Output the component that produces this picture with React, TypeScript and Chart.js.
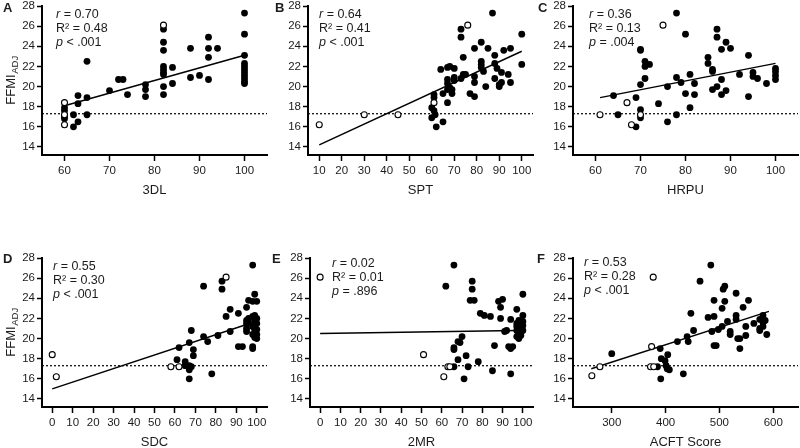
import React, { useEffect, useRef } from "react";
import { Chart, registerables } from "chart.js";
Chart.register(...registerables);

type Pt = [number, number];

// ---------- Text ----------
const panelLetters = ["A", "B", "C", "D", "E", "F"];
const xTitles = ["3DL", "SPT", "HRPU", "SDC", "2MR", "ACFT Score"];
const rValues = ["0.70", "0.64", "0.36", "0.55", "0.02", "0.53"];
const r2Values = ["0.48", "0.41", "0.13", "0.30", "0.01", "0.28"];
const pValues = ["< .001", "< .001", "= .004", "< .001", "= .896", "< .001"];

// ---------- Ticks ----------
const yTicks = [14, 16, 18, 20, 22, 24, 26, 28];
const xTicks3DL = [60, 70, 80, 90, 100];
const xTicksSPT = [10, 20, 30, 40, 50, 60, 70, 80, 90, 100];
const xTicksHRPU = [60, 70, 80, 90, 100];
const xTicksSDC = [0, 10, 20, 30, 40, 50, 60, 70, 80, 90, 100];
const xTicks2MR = [0, 10, 20, 30, 40, 50, 60, 70, 80, 90, 100];
const xTicksACFT = [300, 400, 500, 600];
const cutoffFFMI = 17.3;

// ---------- Panel A: 3DL ----------
const filled3DL: Pt[] = [
  [60, 17.9], [60, 17.6], [60, 17.0], [60, 16.8], [62, 17.2], [62, 16.0],
  [63, 19.1], [63, 18.3], [63, 16.5], [65, 22.5], [65, 18.9], [65, 17.2],
  [70, 19.6], [72, 20.7], [73, 20.7], [74, 19.2], [78, 20.2], [78, 19.7], [78, 19.0],
  [82, 25.7], [82, 24.4], [82, 23.6], [82, 22.0], [82, 21.7], [82, 21.4], [82, 21.2],
  [82, 20.0], [82, 19.2], [84, 21.9], [84, 20.3], [88, 23.8], [88, 20.9], [90, 21.1],
  [92, 24.9], [92, 23.8], [92, 22.9], [92, 20.7], [94, 23.8],
  [100, 27.3], [100, 25.2], [100, 23.1], [100, 22.3], [100, 22.0], [100, 21.7],
  [100, 21.4], [100, 21.1], [100, 20.8], [100, 20.5], [100, 20.3],
];
const open3DL: Pt[] = [[60, 18.4], [60, 17.2], [60, 16.2], [82, 26.1]];
const fit3DL: Pt[] = [[60, 18.1], [100, 23.1]];

// ---------- Panel B: SPT ----------
const filledSPT: Pt[] = [
  [61, 19.2], [61, 18.9], [60, 17.9], [61, 17.6], [61.5, 17.2], [60, 16.9], [62, 16.0],
  [64, 21.7], [65, 19.3], [65, 16.5], [67, 21.9], [67, 20.7], [67, 20.3], [67, 19.7], [67, 18.4],
  [68, 22.0], [68, 19.9], [69, 19.7], [69, 19.3], [70, 21.8], [70, 20.9], [70, 20.6],
  [73, 25.7], [73, 24.9], [73, 20.8], [74, 22.9], [74, 21.2], [75, 21.2],
  [77, 19.3], [79, 23.8], [79, 21.0], [79, 20.4], [79, 19.0],
  [82, 24.4], [82, 22.5], [82, 22.2], [82, 21.9], [83, 21.5], [84, 20.0], [85, 23.8], [87, 27.3],
  [88, 23.1], [88, 22.3], [88, 20.8], [89, 21.8], [90, 20.0], [90, 20.2], [91, 21.4], [91, 20.4],
  [92, 23.6], [94, 21.2], [95, 23.8], [95, 20.4], [100, 25.2], [100, 22.2],
];
const openSPT: Pt[] = [[10, 16.2], [30, 17.2], [45, 17.2], [61, 18.4], [76, 26.1]];
const fitSPT: Pt[] = [[10, 14.2], [100, 23.5]];

// ---------- Panel C: HRPU ----------
const filledHRPU: Pt[] = [
  [64, 19.1], [65, 17.2], [69, 18.9], [69, 16.0], [70, 23.7], [70, 23.6], [70, 20.2],
  [70, 17.7], [70, 16.9], [71, 22.5], [71, 22.0], [71, 20.8], [72, 22.2], [74, 18.3],
  [76, 20.0], [76, 16.5], [78, 27.3], [78, 20.9], [78, 17.2], [79, 20.4],
  [80, 25.2], [80, 19.3], [81, 21.2], [81, 17.9], [82, 20.3], [82, 19.2],
  [85, 22.9], [85, 22.3], [86, 21.7], [86, 21.5], [86, 19.7], [87, 25.7], [87, 24.9], [87, 20.0],
  [88, 23.7], [88, 20.7], [88, 19.2], [89, 24.4], [89, 19.6], [90, 23.8],
  [92, 21.2], [94, 23.1], [94, 19.0], [95, 21.4], [95, 21.0], [96, 20.8], [98, 20.3],
  [100, 21.8], [100, 21.5], [100, 21.1], [100, 20.7],
];
const openHRPU: Pt[] = [[61, 17.2], [67, 18.4], [68, 16.2], [70, 17.2], [75, 26.1]];
const fitHRPU: Pt[] = [[61, 18.9], [100, 22.3]];

// ---------- Panel D: SDC ----------
const filledSDC: Pt[] = [
  [61, 17.9], [62, 19.1], [65, 17.7], [65, 17.3], [67, 19.6], [67, 17.3], [67, 16.9], [67, 16.0],
  [68, 20.8], [68, 17.2], [69, 18.9], [69, 18.3], [74, 25.2], [74, 20.2], [76, 19.7], [78, 16.5],
  [81, 20.3], [83, 25.7], [83, 24.9], [85, 22.2], [87, 22.9], [87, 20.7],
  [91, 22.5], [91, 19.2], [93, 19.2], [95, 23.1], [95, 21.8], [95, 21.5], [95, 21.0], [95, 20.7],
  [96, 23.8], [96, 22.0], [96, 21.6], [98, 27.3], [98, 23.7], [98, 22.2], [98, 21.2], [98, 20.4],
  [98, 19.2], [98, 19.0], [99, 24.4], [99, 22.3], [99, 21.7], [99, 21.3], [99, 20.9], [99, 20.5],
  [99, 20.1], [100, 23.7], [100, 22.0], [100, 21.5], [100, 20.9], [100, 20.4], [100, 20.0],
];
const openSDC: Pt[] = [[0, 18.4], [2, 16.2], [58, 17.2], [62, 17.2], [85, 26.1]];
const fitSDC: Pt[] = [[0, 15.0], [95, 21.4]];

// ---------- Panel E: 2MR ----------
const filled2MR: Pt[] = [
  [62, 25.2], [66, 27.3], [66, 17.2], [66, 19.1], [66, 18.9], [68, 19.7], [68, 17.9], [69, 19.6],
  [70, 20.2], [71, 16.0], [72, 18.3], [73, 17.2], [74, 23.8], [75, 25.7], [75, 24.9], [76, 23.8],
  [78, 17.7], [79, 22.5], [81, 22.3], [84, 22.2], [85, 16.8], [86, 19.3], [88, 23.7], [89, 23.1],
  [89, 22.0], [90, 23.9], [91, 20.7], [92, 20.8], [93, 19.2], [94, 21.9], [94, 19.0], [94, 16.5],
  [95, 19.2], [97, 21.2], [97, 20.8], [97, 22.9], [97, 21.5], [97, 20.2], [98, 21.8], [98, 21.0],
  [98, 20.6], [98, 20.0], [99, 21.6], [99, 20.3], [100, 24.4], [100, 22.3], [100, 21.7],
  [100, 21.3], [100, 20.8],
];
const open2MR: Pt[] = [[0, 26.1], [51, 18.4], [61, 16.2], [63, 17.2], [64, 17.2]];
const fit2MR: Pt[] = [[0, 20.5], [97, 20.8]];

// ---------- Panel F: ACFT Score ----------
const filledACFT: Pt[] = [
  [300, 18.5], [385, 17.2], [390, 19.0], [391, 16.0], [392, 18.0], [399, 17.8], [401, 17.3],
  [404, 18.4], [403, 17.0], [407, 16.9], [422, 19.7], [433, 16.5], [440, 20.2], [442, 19.7],
  [447, 22.5], [452, 20.8], [464, 25.7], [479, 22.1], [484, 27.3], [486, 20.7], [490, 23.8],
  [490, 22.2], [490, 19.3], [494, 19.3], [498, 20.9], [505, 23.0], [505, 21.2], [507, 24.9],
  [510, 25.2], [510, 23.7], [515, 21.7], [520, 20.4], [520, 20.7], [531, 24.5], [531, 22.3],
  [531, 21.9], [534, 20.0], [538, 19.0], [538, 20.0], [544, 23.1], [549, 21.2], [549, 20.3],
  [554, 23.8], [564, 21.5], [575, 21.9], [575, 21.0], [575, 20.8], [581, 22.3], [581, 21.6],
  [581, 21.2], [585, 21.8], [588, 20.4],
];
const openACFT: Pt[] = [[263, 16.3], [278, 17.2], [372, 17.2], [374, 19.2], [377, 26.1], [378, 17.2]];
const fitACFT: Pt[] = [[262, 17.0], [592, 22.7]];

// ---------- Layout (page pixels) ----------
const W = 800;
const H = 448;
const Y_AXIS_W = 40;
const X_AXIS_H = 30;
const FONT = "'Liberation Sans', Arial, Helvetica, sans-serif";
const INK = "#1c1c1c";

type PanelCfg = {
  filled: Pt[]; open: Pt[]; fit: Pt[];
  xMin: number; xMax: number; xTicks: number[];
  box: { l: number; t: number; r: number; b: number };
  letter: [number, number]; stats: [number, number];
  yTitle: boolean;
};

const panels: PanelCfg[] = [
  { filled: filled3DL, open: open3DL, fit: fit3DL, xMin: 55, xMax: 105, xTicks: xTicks3DL,
    box: { l: 42, t: 6, r: 267, b: 155 }, letter: [3, 8], stats: [56, 15], yTitle: true },
  { filled: filledSPT, open: openSPT, fit: fitSPT, xMin: 5, xMax: 105, xTicks: xTicksSPT,
    box: { l: 308, t: 6, r: 533, b: 155 }, letter: [275, 8], stats: [319, 15], yTitle: false },
  { filled: filledHRPU, open: openHRPU, fit: fitHRPU, xMin: 55, xMax: 105, xTicks: xTicksHRPU,
    box: { l: 573, t: 6, r: 798, b: 155 }, letter: [538, 8], stats: [589, 15], yTitle: false },
  { filled: filledSDC, open: openSDC, fit: fitSDC, xMin: -5, xMax: 105, xTicks: xTicksSDC,
    box: { l: 42, t: 258, r: 267, b: 407 }, letter: [3, 259], stats: [53, 267], yTitle: true },
  { filled: filled2MR, open: open2MR, fit: fit2MR, xMin: -5, xMax: 105, xTicks: xTicks2MR,
    box: { l: 310, t: 258, r: 533, b: 407 }, letter: [272, 259], stats: [332, 264], yTitle: false },
  { filled: filledACFT, open: openACFT, fit: fitACFT, xMin: 228, xMax: 646, xTicks: xTicksACFT,
    box: { l: 573, t: 258, r: 798, b: 407 }, letter: [537, 259], stats: [584, 263], yTitle: false },
];

const toXY = (p: Pt) => ({ x: p[0], y: p[1] });

function drawMixed(ctx: CanvasRenderingContext2D, x: number, y: number, italicPart: string, rest: string, size: number) {
  ctx.font = `italic ${size}px ${FONT}`;
  ctx.fillText(italicPart, x, y);
  const w = ctx.measureText(italicPart).width;
  ctx.font = `${size}px ${FONT}`;
  ctx.fillText(rest, x + w, y);
}

function Panel({ idx }: { idx: number }) {
  const ref = useRef<HTMLCanvasElement>(null);
  useEffect(() => {
    const cfg = panels[idx];
    const { box } = cfg;
    const annot = {
      id: "annot" + idx,
      afterDraw(chart: any) {
        const ctx: CanvasRenderingContext2D = chart.ctx;
        ctx.save();
        ctx.fillStyle = INK;
        ctx.textAlign = "left";
        ctx.textBaseline = "middle";
        // panel letter
        ctx.font = `bold 13px ${FONT}`;
        ctx.fillText(panelLetters[idx], cfg.letter[0], cfg.letter[1]);
        // stats
        const [sx, sy] = cfg.stats;
        const fs = 12.5;
        drawMixed(ctx, sx, sy, "r", " = " + rValues[idx], fs);
        ctx.font = `${fs}px ${FONT}`;
        ctx.fillText("R\u00B2 = " + r2Values[idx], sx, sy + 14);
        drawMixed(ctx, sx, sy + 28, "p", " " + pValues[idx], fs);
        // x title
        ctx.textAlign = "center";
        ctx.font = `13px ${FONT}`;
        ctx.fillText(xTitles[idx], (box.l + box.r) / 2, box.b + 35);
        // y title
        if (cfg.yTitle) {
          const cy = (box.t + box.b) / 2;
          ctx.translate(10, cy);
          ctx.rotate(-Math.PI / 2);
          ctx.textAlign = "left";
          ctx.textBaseline = "alphabetic";
          ctx.font = `13px ${FONT}`;
          const w1 = ctx.measureText("FFMI").width;
          ctx.font = `9.5px ${FONT}`;
          const w2 = ctx.measureText("ADJ").width;
          const start = -(w1 + w2) / 2;
          ctx.font = `13px ${FONT}`;
          ctx.fillText("FFMI", start, 4.5);
          ctx.font = `9.5px ${FONT}`;
          ctx.fillText("ADJ", start + w1 + 0.5, 8);
        }
        ctx.restore();
      },
    };
    const tickFont = { family: FONT, size: 11.5 };
    const chart = new Chart(ref.current as HTMLCanvasElement, {
      type: "scatter",
      data: {
        datasets: [
          { data: cfg.open.map(toXY), pointRadius: 3, pointBackgroundColor: "#fff",
            pointBorderColor: "#000", pointBorderWidth: 1.1, order: 0, clip: false } as any,
          { data: cfg.filled.map(toXY), pointRadius: 3.4, pointBackgroundColor: "#000",
            pointBorderColor: "#000", pointBorderWidth: 0, order: 1, clip: false } as any,
          { data: cfg.fit.map(toXY), showLine: true, borderColor: "#000", borderWidth: 1.5,
            pointRadius: 0, order: 2, clip: false } as any,
          { data: [{ x: cfg.xMin, y: cutoffFFMI }, { x: cfg.xMax, y: cutoffFFMI }], showLine: true,
            borderColor: "#000", borderWidth: 1.2, borderDash: [2, 2], pointRadius: 0, order: 3, clip: false } as any,
        ],
      },
      options: {
        responsive: false,
        animation: false,
        devicePixelRatio: 1,
        events: [],
        layout: {
          autoPadding: false,
          padding: { left: box.l - Y_AXIS_W, top: box.t, right: W - box.r, bottom: H - box.b - X_AXIS_H },
        } as any,
        plugins: { legend: { display: false }, tooltip: { enabled: false }, title: { display: false } },
        scales: {
          x: {
            type: "linear", min: cfg.xMin, max: cfg.xMax,
            afterBuildTicks: (ax: any) => { ax.ticks = cfg.xTicks.map((v) => ({ value: v })); },
            afterFit: (ax: any) => { ax.height = X_AXIS_H; ax.paddingLeft = 0; ax.paddingRight = 0; ax.paddingTop = 0; ax.paddingBottom = 0; },
            grid: { display: true, drawOnChartArea: false, drawTicks: true, tickLength: 6, tickWidth: 1.5, tickColor: "#000" },
            border: { display: true, color: "#000", width: 2 },
            ticks: { font: tickFont, color: INK, padding: 3, maxRotation: 0, autoSkip: false },
          },
          y: {
            type: "linear", min: 13.2, max: 28,
            afterBuildTicks: (ax: any) => { ax.ticks = yTicks.map((v) => ({ value: v })); },
            afterFit: (ax: any) => { ax.width = Y_AXIS_W; ax.paddingLeft = 0; ax.paddingRight = 0; ax.paddingTop = 0; ax.paddingBottom = 0; },
            grid: { display: true, drawOnChartArea: false, drawTicks: true, tickLength: 5, tickWidth: 1.5, tickColor: "#000" },
            border: { display: true, color: "#000", width: 2 },
            ticks: { font: tickFont, color: INK, padding: 2, autoSkip: false },
          },
        },
      } as any,
      plugins: [annot],
    });
    return () => chart.destroy();
  }, [idx]);
  return (
    <canvas
      ref={ref}
      width={W}
      height={H}
      style={{ position: "absolute", left: 0, top: 0, width: W, height: H }}
    />
  );
}

export default function App() {
  return (
    <div style={{ position: "absolute", left: 0, top: 0, width: W, height: H, background: "#fff", overflow: "hidden" }}>
      {panels.map((_, i) => (
        <Panel key={i} idx={i} />
      ))}
    </div>
  );
}
